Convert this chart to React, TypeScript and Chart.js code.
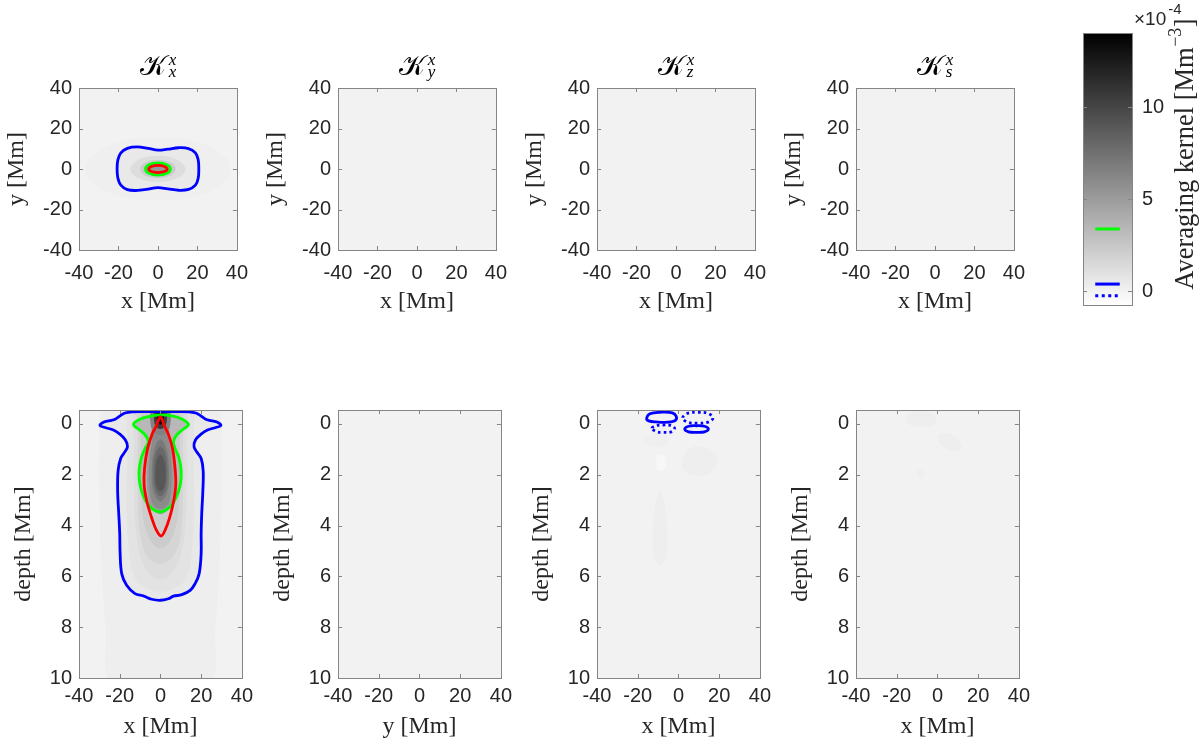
import React, { useEffect, useRef } from "react";
import { Chart, registerables } from "chart.js";

Chart.register(...registerables);

type Pt = [number, number];

// ---------------- axes / ticks ----------------
const xTicks = [-40, -20, 0, 20, 40];
const yTicksTop = [-40, -20, 0, 20, 40];
const depthTicks = [0, 2, 4, 6, 8, 10];
const colorbarTicks = [0, 5, 10];
const xLimits: Pt = [-40, 40];
const yLimitsTop: Pt = [-40, 40];
const depthLimits: Pt = [-0.55, 10];
const colorLimits: Pt = [-0.76, 14.05];

// ---------------- texts ----------------
const titleSuperscript = "x";
const titleSubscripts = ["x", "y", "z", "s"];
const topXLabels = ["x [Mm]", "x [Mm]", "x [Mm]", "x [Mm]"];
const topYLabels = ["y [Mm]", "y [Mm]", "y [Mm]", "y [Mm]"];
const bottomXLabels = ["x [Mm]", "y [Mm]", "x [Mm]", "x [Mm]"];
const bottomYLabels = ["depth [Mm]", "depth [Mm]", "depth [Mm]", "depth [Mm]"];
const colorbarLabel = ["Averaging kernel [Mm", "\u22123", "]"];
const colorbarExponent = ["\u00d710", "-4"];

// ---------------- contour levels ----------------
const levelGreen = 3.38;
const levelBlue = 0.38;
const levelBlueNegative = -0.26;
const backgroundLevel = 0;
const markerSpan: Pt = [0.25, 0.75];

// ---------------- top-left panel (x, y) ----------------
const tlBlue: Pt[] = [
  [-20.7, 0], [-20.3, 4.5], [-18.8, 8], [-15.5, 10.2], [-10.5, 10.9], [-5, 10.2], [0, 9.3],
  [5, 9.8], [10.5, 10.5], [15.5, 10.1], [19, 8], [20.4, 4.5], [20.7, 0], [20.4, -4.5],
  [19, -8], [15.5, -10.1], [10.5, -10.5], [5, -9.8], [0, -9.2], [-5, -9.9], [-10.5, -10.6],
  [-15.5, -10.2], [-18.8, -8], [-20.3, -4.5],
];
const tlGreen: Pt[] = [
  [6.3, 0], [4.5, 2.15], [0, 3.0], [-4.5, 2.15], [-6.3, 0], [-4.5, -2.15], [0, -3.0], [4.5, -2.15],
];
const tlRed: Pt[] = [
  [4.7, 0], [3.3, 1.25], [0, 1.75], [-3.3, 1.25], [-4.7, 0], [-3.3, -1.25], [0, -1.75], [3.3, -1.25],
];
const tlShadeValues = [0.18, 0.5, 1.2, 2.3, 3.6, 5.3];
const tlShade0: Pt[] = [
  [-37, 0], [-30, 9], [-17, 14], [0, 15.5], [17, 14], [30, 9], [37, 0], [30, -9], [17, -14],
  [0, -15.5], [-17, -14], [-30, -9],
];
const tlShade2: Pt[] = [
  [-14, 0], [-10, 4.5], [0, 6.5], [10, 4.5], [14, 0], [10, -4.5], [0, -6.5], [-10, -4.5],
];
const tlShade3: Pt[] = [
  [-9, 0], [-6.4, 3.2], [0, 4.5], [6.4, 3.2], [9, 0], [6.4, -3.2], [0, -4.5], [-6.4, -3.2],
];
const tlShade5: Pt[] = [
  [-4.2, 0], [-3, 1.4], [0, 2], [3, 1.4], [4.2, 0], [3, -1.4], [0, -2], [-3, -1.4],
];

// ---------------- bottom-left panel (x, depth) ----------------
const blBlue: Pt[] = [
  [0, 6.94], [-4.3, 6.9], [-8.4, 6.77], [-12.5, 6.68], [-16.6, 6.35], [-19, 5.9], [-19.8, 5.1],
  [-20, 4.3], [-20.5, 3.5], [-21, 2.7], [-20.8, 1.85], [-19.5, 1.35], [-17.4, 1.09], [-16.2, 0.89],
  [-17.2, 0.63], [-19.8, 0.41], [-23.1, 0.24], [-27.2, 0.14], [-29.7, 0.06], [-28, -0.07],
  [-24.8, -0.13], [-22, -0.2], [-19.8, -0.32], [-17.4, -0.43], [-14, -0.48], [-7, -0.49], [0, -0.49],
  [7, -0.49], [14, -0.48], [17.4, -0.43], [19.8, -0.32], [22, -0.2], [24.8, -0.13], [28, -0.07],
  [29.7, 0.06], [27.2, 0.14], [23.1, 0.24], [19.8, 0.41], [17.2, 0.63], [16.5, 0.89], [17.8, 1.09],
  [20, 1.36], [21, 1.85], [20.8, 2.7], [20.3, 3.5], [20, 4.3], [20, 5.1], [19, 5.9], [17, 6.29],
  [14.6, 6.55], [10.5, 6.72], [6.4, 6.78], [3.9, 6.88],
];
const blRed: Pt[] = [
  [0, -0.28], [2, 0.09], [3.9, 0.4], [5.9, 0.96], [7.2, 1.75], [7.5, 2.41], [6.4, 3.07], [4.4, 3.72],
  [2.3, 4.18], [0.3, 4.41], [-2, 4.18], [-4.2, 3.72], [-6.6, 3.07], [-8, 2.41], [-7.8, 1.75],
  [-6.3, 0.96], [-4.1, 0.4], [-2.1, 0.09],
];
const blGreen: Pt[] = [
  [-13.3, 0.02], [-10.8, -0.16], [-5.9, -0.29], [0, -0.36], [5.6, -0.32], [10.5, -0.2], [13.8, 0.02],
  [11.3, 0.2], [8, 0.43], [6.4, 0.7], [7.2, 0.96], [9.2, 1.36], [10.2, 1.88], [9.7, 2.41], [7.5, 2.93],
  [4.8, 3.26], [1.5, 3.43], [0, 3.46], [-2.6, 3.42], [-5.1, 3.26], [-7.9, 2.93], [-10, 2.41],
  [-10.5, 1.88], [-9.5, 1.36], [-7.5, 0.96], [-5.9, 0.7], [-7.5, 0.43], [-10.8, 0.2],
];
// levels: outer halo, blue, A, 2, B, 3, green, 5, D, 6, E, 7, top1, top2, top3
const blShadeValues = [0.2, 0.55, 0.85, 1.2, 1.7, 2.2, 3.38, 5.0, 6.0, 7.0, 8.0, 9.0, 6.5, 10.5, 13.5];
const blShade0: Pt[] = [
  [-27, -0.7], [0, -0.7], [27, -0.7], [30, 1], [30, 3], [29, 5.5], [27, 8], [24, 10.3], [0, 10.4],
  [-24, 10.3], [-27, 8], [-29, 5.5], [-30, 3], [-30, 1],
];
const blShadeA: Pt[] = [
  [-15, -0.6], [0, -0.6], [15, -0.6], [16, 0.8], [16.5, 2.5], [16, 4.5], [13, 6], [6, 6.5], [0, 6.6],
  [-6, 6.5], [-13, 6], [-16, 4.5], [-16.5, 2.5], [-16, 0.8],
];
const blShade2: Pt[] = [
  [-12, -0.6], [0, -0.6], [12, -0.6], [13, 0.8], [13, 2.5], [12, 4.2], [9, 5.4], [4, 6], [0, 6.1],
  [-4, 6], [-9, 5.4], [-12, 4.2], [-13, 2.5], [-13, 0.8],
];
const blShadeB: Pt[] = [
  [-10, -0.6], [0, -0.6], [10, -0.6], [11, 0.9], [11.2, 2.5], [10, 4.3], [6.5, 5.2], [0, 5.5],
  [-6.5, 5.2], [-10, 4.3], [-11.2, 2.5], [-11, 0.9],
];
const blShade3: Pt[] = [
  [-8.5, -0.6], [0, -0.6], [8.5, -0.6], [9.5, 1], [9.5, 2.6], [8, 3.9], [4, 4.7], [0, 4.9], [-4, 4.7],
  [-8, 3.9], [-9.5, 2.6], [-9.5, 1],
];
const blShade5: Pt[] = [
  [0, -0.5], [3.5, -0.3], [4.5, 0.4], [6, 1.2], [6.8, 2], [6.2, 2.8], [4.5, 3.3], [0, 3.55],
  [-4.5, 3.3], [-6.2, 2.8], [-6.8, 2], [-6, 1.2], [-4.5, 0.4], [-3.5, -0.3],
];
const blShadeD: Pt[] = [
  [0, -0.3], [3, -0.1], [4, 0.6], [5.2, 1.3], [5.6, 2], [5, 2.8], [3.5, 3.2], [0, 3.35], [-3.5, 3.2],
  [-5, 2.8], [-5.6, 2], [-5.2, 1.3], [-4, 0.6], [-3, -0.1],
];
const blShade6: Pt[] = [
  [0, 0.6], [3, 1.0], [4.2, 1.9], [3.3, 2.7], [0, 3.05], [-3.3, 2.7], [-4.2, 1.9], [-3, 1.0],
];
const blShadeE: Pt[] = [
  [0, 0.9], [2.5, 1.2], [3.3, 1.9], [2.7, 2.55], [0, 2.85], [-2.7, 2.55], [-3.3, 1.9], [-2.5, 1.2],
];
const blShade7: Pt[] = [
  [0, 1.2], [2, 1.5], [2.5, 1.95], [2, 2.45], [0, 2.65], [-2, 2.45], [-2.5, 1.95], [-2, 1.5],
];
const blTop1: Pt[] = [
  [0, -0.6], [4.5, -0.5], [5, -0.1], [3.5, 0.3], [0, 0.45], [-3.5, 0.3], [-5, -0.1], [-4.5, -0.5],
];
const blTop2: Pt[] = [
  [0, -0.58], [2.8, -0.5], [3.2, -0.2], [2.2, 0.1], [0, 0.2], [-2.2, 0.1], [-3.2, -0.2], [-2.8, -0.5],
];
const blTop3: Pt[] = [
  [0, -0.5], [1.5, -0.45], [1.8, -0.25], [1.2, -0.05], [0, 0.02], [-1.2, -0.05], [-1.8, -0.25], [-1.5, -0.45],
];

// ---------------- bottom panel 3 (x, depth) ----------------
const p3SolidA: Pt[] = [
  [-15.6, -0.22], [-14, -0.4], [-9, -0.46], [-3, -0.44], [-1.1, -0.3], [-1.5, -0.14], [-5, -0.07],
  [-11, -0.08], [-14.6, -0.12],
];
const p3DottedA: Pt[] = [
  [-13, 0.17], [-10.5, 0.06], [-7.5, 0.04], [-3.5, 0.06], [-1.9, 0.17], [-3.5, 0.31], [-7.5, 0.33],
  [-10.5, 0.31],
];
const p3DottedB: Pt[] = [
  [2.1, -0.24], [4.5, -0.42], [9.5, -0.46], [14.5, -0.42], [17, -0.24], [14.5, -0.07], [9.5, -0.03],
  [4.5, -0.07],
];
const p3SolidB: Pt[] = [
  [3.1, 0.2], [5, 0.09], [8.9, 0.07], [12.8, 0.09], [14.7, 0.2], [12.8, 0.31], [8.9, 0.33], [5, 0.31],
];
const p3ShadeValues = [-0.3, 0.25, 0.2, 0.16];
const p3Light: Pt[] = [
  [-8.5, 1.2], [-6.5, 1.3], [-6, 1.55], [-7, 1.8], [-8.5, 1.85], [-10, 1.8], [-11, 1.55], [-10.5, 1.3],
];
const p3Blob1: Pt[] = [
  [-9, 2.6], [-6.5, 3.3], [-5.5, 4.2], [-6, 5.2], [-9, 5.6], [-12, 5.2], [-12.5, 4.2], [-11.5, 3.3],
];
const p3Blob2: Pt[] = [
  [2, 1.4], [6, 0.95], [12, 0.9], [18, 1.2], [19, 1.6], [14, 2.0], [6, 2.0], [2.5, 1.8],
];
const p3Blob3: Pt[] = [
  [-17, 0.6], [-10, 0.35], [-5, 0.5], [-6, 0.85], [-12, 0.9], [-17, 0.8],
];

// ---------------- bottom panel 4 (x, depth) ----------------
const p4ShadeValues = [0.25, 0.2, 0.16];
const p4Blob1: Pt[] = [
  [-15.5, -0.2], [-12, -0.46], [-5, -0.48], [-0.6, -0.3], [-1.5, 0.0], [-6, 0.1], [-12, 0.08], [-15, -0.05],
];
const p4Blob2: Pt[] = [
  [0.5, 0.45], [5, 0.37], [10, 0.6], [11.8, 0.9], [10, 1.08], [5, 1.0], [1.5, 0.8],
];
const p4Blob3: Pt[] = [[-9.7, 1.8], [-6.4, 1.85], [-6.4, 2.1], [-9.7, 2.1]];

// ---------------- styling ----------------
const SANS = '"Liberation Sans", Arial, sans-serif';
const SERIF = '"Liberation Serif", "Times New Roman", serif';
const TEXT = "#262626";
const FRAME = "#858585";
const BLUE = "#0000ff";
const GREEN = "#00ff00";
const RED = "#ff0000";

const gray = (v: number) => {
  const f = (v - colorLimits[0]) / (colorLimits[1] - colorLimits[0]);
  const g = Math.round(255 * (1 - Math.min(1, Math.max(0, f))));
  return `rgb(${g},${g},${g})`;
};
const toXY = (pts: Pt[]) => pts.map(([x, y]) => ({ x, y }));

function contourSet(pts: Pt[], color: string, dashed = false) {
  return {
    data: toXY(pts),
    borderColor: color,
    borderWidth: 2.8,
    borderDash: dashed ? [2.6, 3.2] : [],
    borderCapStyle: "butt",
    borderJoinStyle: "round",
    fill: false,
    pointRadius: 0,
    tension: 0.38,
    loop: true,
  };
}
function shadeSet(pts: Pt[], v: number) {
  return {
    data: toXY(pts),
    borderWidth: 0,
    borderColor: "rgba(0,0,0,0)",
    backgroundColor: gray(v),
    fill: "shape",
    pointRadius: 0,
    tension: 0.38,
    loop: true,
  };
}

// close polygons smoothly (like a radar line)
const loopPlugin = {
  id: "loopClose",
  afterDatasetUpdate(chart: any, args: any) {
    const ds = chart.data.datasets[args.index];
    const line = args.meta && args.meta.dataset;
    if (ds && ds.loop && line) {
      line._loop = true;
      line._fullLoop = true;
    }
  },
};

// background, box and inward tick marks (MATLAB style)
const framePlugin = {
  id: "frame",
  beforeDatasetsDraw(chart: any, _a: any, opts: any) {
    if (!opts || !opts.bg) return;
    const { ctx, chartArea: a } = chart;
    ctx.save();
    ctx.fillStyle = gray(backgroundLevel);
    ctx.fillRect(a.left, a.top, a.right - a.left, a.bottom - a.top);
    ctx.restore();
  },
  afterDatasetsDraw(chart: any) {
    const { ctx, chartArea: a, scales } = chart;
    const L = 4;
    ctx.save();
    ctx.strokeStyle = FRAME;
    ctx.lineWidth = 1;
    ctx.beginPath();
    const xs = scales.x;
    const ys = scales.y;
    if (xs && xs.options.display !== false) {
      for (const t of xs.ticks) {
        const px = Math.round(xs.getPixelForValue(t.value)) + 0.5;
        ctx.moveTo(px, a.bottom);
        ctx.lineTo(px, a.bottom - L);
        ctx.moveTo(px, a.top);
        ctx.lineTo(px, a.top + L);
      }
    }
    if (ys && ys.options.display !== false) {
      for (const t of ys.ticks) {
        const py = Math.round(ys.getPixelForValue(t.value)) + 0.5;
        ctx.moveTo(a.left, py);
        ctx.lineTo(a.left + L, py);
        ctx.moveTo(a.right, py);
        ctx.lineTo(a.right - L, py);
      }
    }
    ctx.stroke();
    ctx.strokeRect(
      Math.round(a.left) + 0.5,
      Math.round(a.top) + 0.5,
      Math.round(a.right - a.left),
      Math.round(a.bottom - a.top)
    );
    ctx.restore();
  },
};

// title  K_{sub}^{sup}
const titlePlugin = {
  id: "ktitle",
  afterDraw(chart: any, _a: any, opts: any) {
    if (!opts || !opts.sub) return;
    const { ctx, chartArea: a } = chart;
    const cx = (a.left + a.right) / 2;
    const base = a.top - 13;
    ctx.save();
    ctx.fillStyle = "#000";
    ctx.textBaseline = "alphabetic";
    ctx.textAlign = "left";
    const kFont = '28px "DejaVu Serif", "DejaVu Sans", serif';
    const sFont = 'italic 17px "Liberation Serif", serif';
    ctx.font = kFont;
    const K = "\u{1D4A6}";
    const kw = ctx.measureText(K).width;
    ctx.font = sFont;
    const sw = Math.max(ctx.measureText(opts.sub).width, ctx.measureText(opts.sup).width);
    const gap = 3;
    const x0 = cx - (kw + gap + sw) / 2;
    ctx.font = kFont;
    ctx.fillText(K, x0, base);
    ctx.font = sFont;
    ctx.fillText(opts.sup, x0 + kw + gap, base - 10);
    ctx.fillText(opts.sub, x0 + kw + gap, base + 2);
    ctx.restore();
  },
};

// colour-bar label and exponent
const colorbarTextPlugin = {
  id: "cbtext",
  afterDraw(chart: any) {
    const { ctx, chartArea: a } = chart;
    ctx.save();
    ctx.fillStyle = TEXT;
    ctx.textBaseline = "alphabetic";
    ctx.textAlign = "left";
    ctx.font = `19px ${SANS}`;
    ctx.fillText(colorbarExponent[0], a.right + 2, a.top - 8);
    const ew = ctx.measureText(colorbarExponent[0]).width;
    ctx.font = `15px ${SANS}`;
    ctx.fillText(colorbarExponent[1], a.right + 4 + ew, a.top - 19);
    ctx.translate(a.right + 54, (a.top + a.bottom) / 2 - 15);
    ctx.rotate(-Math.PI / 2);
    const mainFont = `26.5px ${SERIF}`;
    const supFont = `18px ${SERIF}`;
    ctx.font = mainFont;
    const w1 = ctx.measureText(colorbarLabel[0]).width;
    const w3 = ctx.measureText(colorbarLabel[2]).width;
    ctx.font = supFont;
    const w2 = ctx.measureText(colorbarLabel[1]).width;
    let x = -(w1 + w2 + w3 + 1) / 2;
    ctx.textBaseline = "middle";
    ctx.font = mainFont;
    ctx.fillText(colorbarLabel[0], x, 0);
    x += w1;
    ctx.font = supFont;
    ctx.fillText(colorbarLabel[1], x + 0.5, -10);
    x += w2 + 1;
    ctx.font = mainFont;
    ctx.fillText(colorbarLabel[2], x, 0);
    ctx.restore();
  },
};

type PanelSpec = {
  datasets: any[];
  yLim: Pt;
  yTicks: number[];
  reverse: boolean;
  xLabel: string;
  yLabel: string;
  padTop: number;
  xAxisH: number;
  xTickPad: number;
  xTitlePad: number;
  yTitlePad: number;
  title?: { sub: string; sup: string };
};

function panelConfig(p: PanelSpec): any {
  const plugins: any[] = [loopPlugin, framePlugin];
  if (p.title) plugins.push(titlePlugin);
  return {
    type: "line",
    data: { datasets: p.datasets },
    options: {
      animation: false,
      responsive: false,
      events: [],
      layout: { padding: { top: p.padTop, right: 17, left: 0, bottom: 0 } },
      plugins: {
        legend: { display: false },
        tooltip: { enabled: false },
        frame: { bg: true },
        ktitle: p.title || {},
      },
      scales: {
        x: {
          type: "linear",
          min: xLimits[0],
          max: xLimits[1],
          grid: { display: false, drawTicks: false },
          border: { display: false },
          afterBuildTicks: (s: any) => {
            s.ticks = xTicks.map((value) => ({ value }));
          },
          afterFit: (s: any) => {
            s.height = p.xAxisH;
          },
          ticks: {
            autoSkip: false,
            maxRotation: 0,
            minRotation: 0,
            padding: p.xTickPad,
            color: TEXT,
            font: { family: SANS, size: 20 },
          },
          title: {
            display: true,
            text: p.xLabel,
            color: TEXT,
            font: { family: SERIF, size: 24 },
            padding: { top: 0, bottom: p.xTitlePad },
          },
        },
        y: {
          type: "linear",
          min: p.yLim[0],
          max: p.yLim[1],
          reverse: p.reverse,
          grid: { display: false, drawTicks: false },
          border: { display: false },
          afterBuildTicks: (s: any) => {
            s.ticks = p.yTicks.map((value) => ({ value }));
          },
          afterFit: (s: any) => {
            s.width = 79;
          },
          ticks: {
            autoSkip: false,
            padding: 7,
            color: TEXT,
            font: { family: SANS, size: 20 },
          },
          title: {
            display: true,
            text: p.yLabel,
            color: TEXT,
            font: { family: SERIF, size: 24 },
            padding: { top: p.yTitlePad, bottom: 0 },
          },
        },
      },
    },
    plugins,
  };
}

function colorbarConfig(): any {
  const marker = (v: number, color: string, dashed = false) => ({
    data: toXY([
      [markerSpan[0], v],
      [markerSpan[1], v],
    ]),
    borderColor: color,
    borderWidth: 3,
    borderDash: dashed ? [3, 3.5] : [],
    fill: false,
    pointRadius: 0,
    tension: 0,
  });
  const box: Pt[] = [
    [0, colorLimits[0]],
    [1, colorLimits[0]],
    [1, colorLimits[1]],
    [0, colorLimits[1]],
  ];
  return {
    type: "line",
    data: {
      datasets: [
        marker(levelGreen, GREEN),
        marker(levelBlue, BLUE),
        marker(levelBlueNegative, BLUE, true),
        {
          data: toXY(box),
          borderWidth: 0,
          borderColor: "rgba(0,0,0,0)",
          backgroundColor: (c: any) => {
            const chart = c.chart;
            const ys = chart.scales && chart.scales.y;
            if (!chart.chartArea || !ys) return "#888";
            const g = chart.ctx.createLinearGradient(
              0,
              ys.getPixelForValue(colorLimits[0]),
              0,
              ys.getPixelForValue(colorLimits[1])
            );
            g.addColorStop(0, "#ffffff");
            g.addColorStop(1, "#000000");
            return g;
          },
          fill: "shape",
          pointRadius: 0,
          tension: 0,
          loop: true,
        },
      ],
    },
    options: {
      animation: false,
      responsive: false,
      events: [],
      layout: { padding: { top: 33, right: 0, left: 23, bottom: 25 } },
      plugins: { legend: { display: false }, tooltip: { enabled: false }, frame: { bg: false } },
      scales: {
        x: { type: "linear", display: false, min: 0, max: 1 },
        y: {
          type: "linear",
          position: "right",
          min: colorLimits[0],
          max: colorLimits[1],
          grid: { display: false, drawTicks: false },
          border: { display: false },
          afterBuildTicks: (s: any) => {
            s.ticks = colorbarTicks.map((value) => ({ value }));
          },
          afterFit: (s: any) => {
            s.width = 68;
          },
          ticks: { autoSkip: false, padding: 10, color: TEXT, font: { family: SANS, size: 20 } },
        },
      },
    },
    plugins: [loopPlugin, framePlugin, colorbarTextPlugin],
  };
}

function ChartCanvas(props: { left: number; top: number; width: number; height: number; config: () => any }) {
  const ref = useRef<HTMLCanvasElement | null>(null);
  useEffect(() => {
    if (!ref.current) return;
    const chart = new Chart(ref.current, props.config());
    return () => chart.destroy();
  }, []);
  return (
    <canvas
      ref={ref}
      width={props.width}
      height={props.height}
      style={{ position: "absolute", left: props.left, top: props.top, width: props.width, height: props.height }}
    />
  );
}

const topDatasets: any[][] = [
  [
    contourSet(tlRed, RED),
    contourSet(tlGreen, GREEN),
    contourSet(tlBlue, BLUE),
    shadeSet(tlShade5, tlShadeValues[5]),
    shadeSet(tlGreen, tlShadeValues[4]),
    shadeSet(tlShade3, tlShadeValues[3]),
    shadeSet(tlShade2, tlShadeValues[2]),
    shadeSet(tlBlue, tlShadeValues[1]),
    shadeSet(tlShade0, tlShadeValues[0]),
  ],
  [],
  [],
  [],
];

const bottomDatasets: any[][] = [
  [
    contourSet(blRed, RED),
    contourSet(blGreen, GREEN),
    contourSet(blBlue, BLUE),
    shadeSet(blTop3, blShadeValues[14]),
    shadeSet(blTop2, blShadeValues[13]),
    shadeSet(blTop1, blShadeValues[12]),
    shadeSet(blShade7, blShadeValues[11]),
    shadeSet(blShadeE, blShadeValues[10]),
    shadeSet(blShade6, blShadeValues[9]),
    shadeSet(blShadeD, blShadeValues[8]),
    shadeSet(blShade5, blShadeValues[7]),
    shadeSet(blGreen, blShadeValues[6]),
    shadeSet(blShade3, blShadeValues[5]),
    shadeSet(blShadeB, blShadeValues[4]),
    shadeSet(blShade2, blShadeValues[3]),
    shadeSet(blShadeA, blShadeValues[2]),
    shadeSet(blBlue, blShadeValues[1]),
    shadeSet(blShade0, blShadeValues[0]),
  ],
  [],
  [
    contourSet(p3SolidA, BLUE),
    contourSet(p3DottedA, BLUE, true),
    contourSet(p3DottedB, BLUE, true),
    contourSet(p3SolidB, BLUE),
    shadeSet(p3Light, p3ShadeValues[0]),
    shadeSet(p3Blob1, p3ShadeValues[1]),
    shadeSet(p3Blob2, p3ShadeValues[2]),
    shadeSet(p3Blob3, p3ShadeValues[3]),
  ],
  [
    shadeSet(p4Blob1, p4ShadeValues[0]),
    shadeSet(p4Blob2, p4ShadeValues[1]),
    shadeSet(p4Blob3, p4ShadeValues[2]),
  ],
];

const PANEL_STEP = 259;
const TOP_CANVAS = { top: 30, height: 300 };
const BOTTOM_CANVAS = { top: 370, height: 372 };

export default function App() {
  const cols = [0, 1, 2, 3];
  return (
    <div style={{ position: "fixed", left: 0, top: 0, width: 1200, height: 742, background: "#ffffff", overflow: "hidden" }}>
      {cols.map((k) => (
        <ChartCanvas
          key={"t" + k}
          left={PANEL_STEP * k}
          top={TOP_CANVAS.top}
          width={PANEL_STEP}
          height={TOP_CANVAS.height}
          config={() =>
            panelConfig({
              datasets: topDatasets[k],
              yLim: yLimitsTop,
              yTicks: yTicksTop,
              reverse: false,
              xLabel: topXLabels[k],
              yLabel: topYLabels[k],
              padTop: 58,
              xAxisH: 80,
              xTickPad: 11,
              xTitlePad: 13.6,
              yTitlePad: 2.6,
              title: { sub: titleSubscripts[k], sup: titleSuperscript },
            })
          }
        />
      ))}
      {cols.map((k) => (
        <ChartCanvas
          key={"b" + k}
          left={PANEL_STEP * k}
          top={BOTTOM_CANVAS.top}
          width={PANEL_STEP}
          height={BOTTOM_CANVAS.height}
          config={() =>
            panelConfig({
              datasets: bottomDatasets[k],
              yLim: depthLimits,
              yTicks: depthTicks,
              reverse: true,
              xLabel: bottomXLabels[k],
              yLabel: bottomYLabels[k],
              padTop: 40,
              xAxisH: 64,
              xTickPad: 6,
              xTitlePad: 0.6,
              yTitlePad: 9,
            })
          }
        />
      ))}
      <ChartCanvas left={1060} top={0} width={140} height={330} config={colorbarConfig} />
    </div>
  );
}
